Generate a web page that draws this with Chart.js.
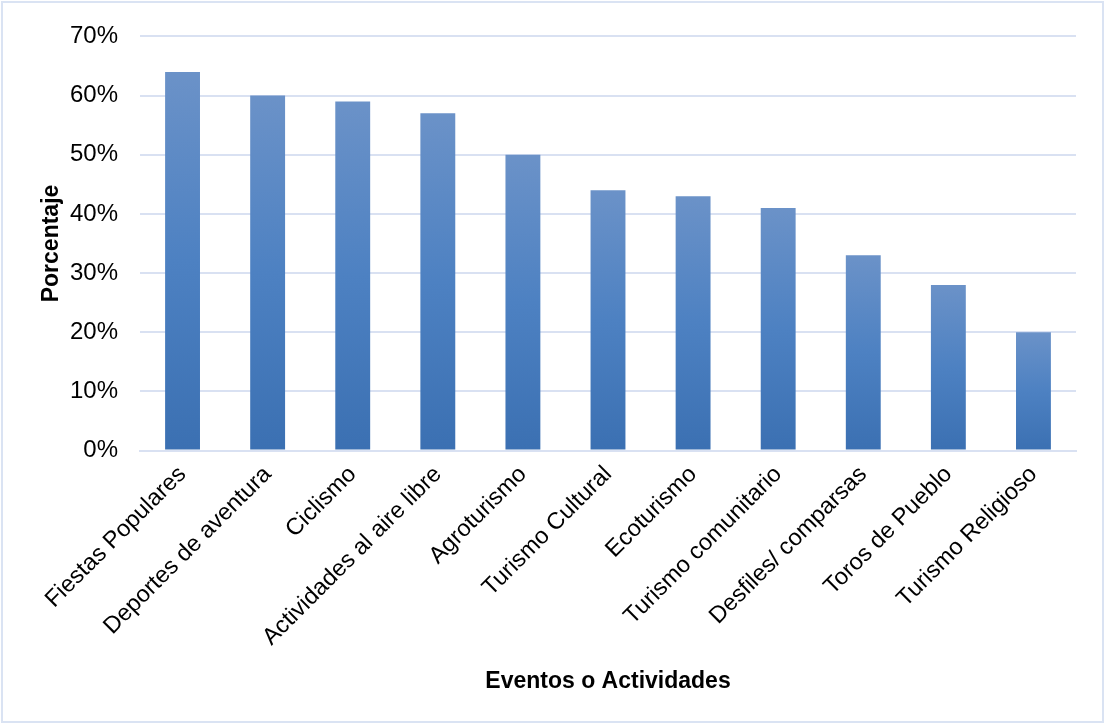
<!DOCTYPE html>
<html>
<head>
<meta charset="utf-8">
<script src="https://cdn.jsdelivr.net/npm/chart.js@4/dist/chart.umd.min.js"></script>
<style>
  html, body { margin: 0; padding: 0; background: #fff; }
  #frame {
    position: absolute; left: 1px; top: 1px;
    width: 1099px; height: 718px;
    border: 2px solid #dae3f3;
  }
  #wrap { position: absolute; left: 0; top: -3px; width: 1099px; height: 721px; }
</style>
</head>
<body>
<div id="frame"><div id="wrap"><canvas id="chart"></canvas></div></div>
<script>
"use strict";

const categories = [
    "Fiestas Populares", "Deportes de aventura", "Ciclismo", "Actividades al aire libre",
    "Agroturismo", "Turismo Cultural", "Ecoturismo", "Turismo comunitario",
    "Desfiles/ comparsas", "Toros de Pueblo", "Turismo Religioso"
];
const percentages = [64, 60, 59, 57, 50, 44, 43, 41, 33, 28, 20];
const yTicks = [0, 10, 20, 30, 40, 50, 60, 70];

const ctx = document.querySelector("#chart").getContext("2d");

// each bar gets its own light-to-dark vertical gradient
const barFill = (c) => {
    const yScale = c.chart.scales.y;
    if (!yScale || c.raw === undefined) return "#4f81bd";
    const top = yScale.getPixelForValue(c.raw);
    const base = yScale.getPixelForValue(0);
    if (!isFinite(top) || !isFinite(base) || top === base) return "#4f81bd";
    const g = c.chart.ctx.createLinearGradient(0, top, 0, base);
    g.addColorStop(0, "#6b92c8");
    g.addColorStop(0.5, "#4d81c2");
    g.addColorStop(1, "#3b70b2");
    return g;
};

new Chart(ctx, {
    type: "bar",
    data: {
        labels: categories,
        datasets: [{
            data: percentages,
            backgroundColor: barFill,
            borderWidth: 0,
            categoryPercentage: 1,
            barPercentage: 0.41,
        }],
    },
    options: {
        responsive: true,
        maintainAspectRatio: false,
        animation: false,
        layout: { padding: { left: 12, right: 26, top: 9, bottom: 26 } },
        plugins: {
            legend: { display: false },
            tooltip: { enabled: false },
        },
        scales: {
            x: {
                grid: { display: false },
                border: { color: "#d9e1f2", width: 2 },
                ticks: {
                    color: "#000",
                    font: { family: "Liberation Sans, Arial", size: 23.5 },
                    minRotation: 45,
                    maxRotation: 45,
                    autoSkip: false,
                    padding: 2,
                },
                title: {
                    display: true,
                    text: "Eventos o Actividades",
                    color: "#000",
                    font: { family: "Liberation Sans, Arial", size: 23, weight: "bold" },
                    padding: { top: 14, bottom: 0 },
                },
            },
            y: {
                min: 0,
                max: 70,
                afterBuildTicks: (axis) => {
                    axis.ticks = yTicks.map(v => ({ value: v }));
                },
                afterFit: (axis) => {
                    axis.width = 125;
                },
                grid: { color: "#d9e1f2", lineWidth: 2, drawTicks: false },
                border: { display: false },
                ticks: {
                    color: "#000",
                    font: { family: "Liberation Sans, Arial", size: 24 },
                    padding: 22,
                    callback: (v) => v + "%",
                },
                title: {
                    display: true,
                    text: "Porcentaje",
                    color: "#000",
                    font: { family: "Liberation Sans, Arial", size: 23, weight: "bold" },
                    padding: { top: 23, bottom: 0 },
                },
            },
        },
    },
});
</script>
</body>
</html>
